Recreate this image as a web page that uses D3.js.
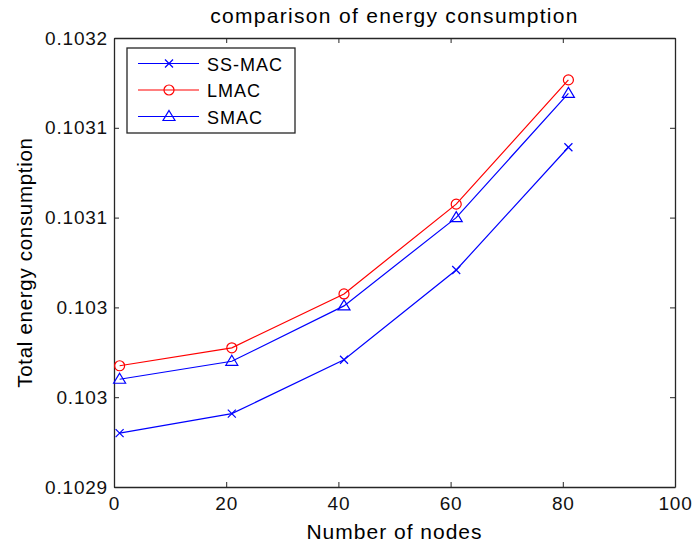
<!DOCTYPE html>
<html>
<head>
<meta charset="utf-8">
<script src="https://cdn.jsdelivr.net/npm/d3@7"></script>
<style>
  body { margin: 0; background: #fff; }
  svg { font-family: Arial, "Liberation Sans", sans-serif; }
  .ax text { font-size: 19px; letter-spacing: 0.8px; fill: #111; }
  .ax path, .ax line { stroke: #262626; }
</style>
</head>
<body>
<svg id="chart" width="696" height="546"></svg>
<script>
// data
var nodes = [1, 21, 41, 61, 81]
var ssmac = [0.102936, 0.102949, 0.102985, 0.103045, 0.103127]
var lmac = [0.102981, 0.102993, 0.103029, 0.103089, 0.103172]
var smac = [0.102972, 0.102984, 0.103021, 0.103080, 0.103163]
var xTicks = [0, 20, 40, 60, 80, 100]
var yTicks = [0.1029, 0.10296, 0.10302, 0.10308, 0.10314, 0.1032]
var yTickLabels = ['0.1029', '0.103', '0.103', '0.1031', '0.1031', '0.1032']

var svg = d3.select('#chart')
// plot box (note: "top" is taken by window.top)
var pL = 114, pR = 675, pT = 38, pB = 487

var x = d3.scaleLinear().domain([0, 100]).range([pL, pR])
var y = d3.scaleLinear().domain([0.1029, 0.1032]).range([pB, pT])

// axes, ticks pointing inwards like matlab
svg.append('g').attr('class', 'ax')
  .attr('transform', 'translate(0,' + pB + ')')
  .call(d3.axisBottom(x).tickValues(xTicks).tickSizeInner(-5).tickSizeOuter(0).tickPadding(10))
svg.append('g').attr('class', 'ax')
  .attr('transform', 'translate(0,' + pT + ')')
  .call(d3.axisTop(x).tickValues(xTicks).tickSizeInner(-5).tickSizeOuter(0).tickFormat(''))
svg.append('g').attr('class', 'ax')
  .attr('transform', 'translate(' + pL + ',0)')
  .call(d3.axisLeft(y).tickValues(yTicks).tickSizeInner(-5).tickSizeOuter(0).tickPadding(6)
    .tickFormat((d, i) => yTickLabels[i]))
svg.append('g').attr('class', 'ax')
  .attr('transform', 'translate(' + pR + ',0)')
  .call(d3.axisRight(y).tickValues(yTicks).tickSizeInner(-5).tickSizeOuter(0).tickFormat(''))
svg.selectAll('.ax .domain').attr('stroke-width', 1.3)

// title and labels
svg.append('text')
  .attr('x', (pL + pR) / 2).attr('y', 23)
  .attr('text-anchor', 'middle')
  .style('font-size', '21px').style('letter-spacing', '1.3px')
  .text('comparison of energy consumption')
svg.append('text')
  .attr('x', (pL + pR) / 2).attr('y', 539)
  .attr('text-anchor', 'middle')
  .style('font-size', '21px').style('letter-spacing', '1px')
  .text('Number of nodes')
svg.append('text')
  .attr('transform', 'translate(32,' + (pT + pB) / 2 + ') rotate(-90)')
  .attr('text-anchor', 'middle')
  .style('font-size', '20.5px').style('letter-spacing', '0.7px')
  .text('Total energy consumption')

var series = [
  { name: 'SS-MAC', values: ssmac, color: '#0000ff', marker: 'x' },
  { name: 'LMAC', values: lmac, color: '#ff0000', marker: 'o' },
  { name: 'SMAC', values: smac, color: '#0000ff', marker: '^' }
]

function drawMarker(g, type, color) {
  if (type === 'x') {
    g.append('path').attr('d', 'M-4,-4L4,4M-4,4L4,-4')
      .attr('stroke', color).attr('stroke-width', 1.2).attr('fill', 'none')
  } else if (type === 'o') {
    g.append('circle').attr('r', 5)
      .attr('stroke', color).attr('stroke-width', 1.2).attr('fill', 'none')
  } else {
    g.append('path').attr('d', 'M0,-6L6,4L-6,4Z')
      .attr('stroke', color).attr('stroke-width', 1.2).attr('fill', 'none')
  }
}

var line = d3.line().x((d, i) => x(nodes[i])).y(d => y(d))

series.forEach(function(s) {
  svg.append('path')
    .datum(s.values)
    .attr('d', line)
    .attr('fill', 'none')
    .attr('stroke', s.color)
    .attr('stroke-width', 1.2)
  svg.selectAll(null)
    .data(s.values)
    .enter()
    .append('g')
      .attr('transform', (d, i) => 'translate(' + x(nodes[i]) + ',' + y(d) + ')')
      .each(function() { drawMarker(d3.select(this), s.marker, s.color) })
})

// legend
var legend = svg.append('g')
legend.append('rect')
  .attr('x', 127).attr('y', 48).attr('width', 168).attr('height', 85)
  .attr('fill', '#fff').attr('stroke', '#262626').attr('stroke-width', 1.3)

var item = legend.selectAll('g.item')
  .data(series)
  .enter()
  .append('g')
    .attr('class', 'item')
    .attr('transform', (d, i) => 'translate(0,' + (63.5 + i * 26.5) + ')')

item.append('line')
  .attr('x1', 138).attr('x2', 199)
  .attr('stroke', d => d.color).attr('stroke-width', 1.2)
item.append('g')
  .attr('transform', 'translate(169,0)')
  .each(function(d) { drawMarker(d3.select(this), d.marker, d.color) })
item.append('text')
  .attr('x', 207).attr('y', 7)
  .style('font-size', '18px').style('letter-spacing', '1px')
  .text(d => d.name)
</script>
</body>
</html>
